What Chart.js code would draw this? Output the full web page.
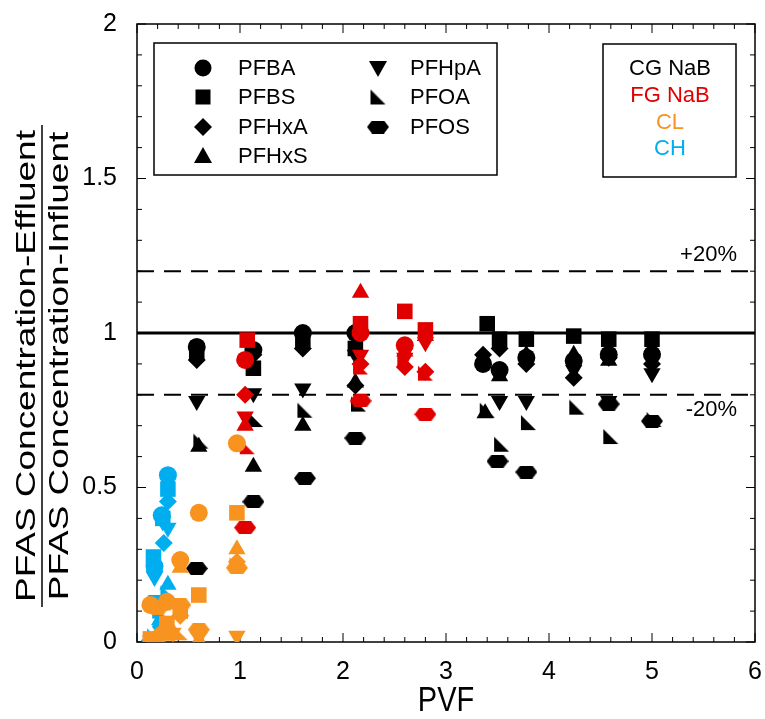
<!DOCTYPE html>
<html>
<head>
<meta charset="utf-8">
<script src="https://cdn.jsdelivr.net/npm/chart.js@4"></script>
<style>
  html, body { margin: 0; padding: 0; background: #fff; }
</style>
</head>
<body>
<canvas id="chart" width="765" height="719"></canvas>
<script>
const compounds = ['PFBA', 'PFBS', 'PFHxA', 'PFHxS', 'PFHpA', 'PFOA', 'PFOS'];
const sources = ['CG NaB', 'FG NaB', 'CL', 'CH'];
const sourceColors = ['#000000', '#e00000', '#f7931e', '#00aeef'];
const xTickValues = [0, 1, 2, 3, 4, 5, 6];
const yTickValues = [0, 0.5, 1, 1.5, 2];
const refLevels = [1, 1.2, 0.8];
const refLabels = ['', '+20%', '-20%'];

// CG NaB
const cgPFBA = [[0.58, 0.955], [1.13, 0.945], [1.61, 1.0], [2.12, 1.0], [3.36, 0.90], [3.52, 0.88], [3.78, 0.92], [4.24, 0.91], [4.58, 0.93], [5.0, 0.93]];
const cgPFBS = [[0.58, 0.94], [1.13, 0.886], [1.61, 0.98], [2.12, 0.95], [3.40, 1.03], [3.52, 0.98], [3.78, 0.98], [4.24, 0.99], [4.58, 0.98], [5.0, 0.98]];
const cgPFHxA = [[0.58, 0.913], [1.13, 0.93], [1.61, 0.95], [2.12, 0.83], [3.36, 0.93], [3.52, 0.95], [3.78, 0.90], [4.24, 0.855], [4.58, 0.92], [5.0, 0.90]];
const cgPFHxS = [[0.60, 0.632], [1.13, 0.567], [1.61, 0.70], [2.12, 0.84], [3.38, 0.74], [3.52, 0.86], [3.78, 0.93], [4.24, 0.93], [4.58, 0.91], [5.0, 0.95]];
const cgPFHpA = [[0.58, 0.78], [1.13, 0.805], [1.61, 0.82], [2.12, 0.93], [3.52, 0.78], [3.78, 0.78], [4.24, 0.88], [4.58, 0.78], [5.0, 0.87]];
const cgPFOA = [[0.62, 0.65], [1.15, 0.72], [1.63, 0.75], [2.15, 0.77], [3.40, 0.75], [3.54, 0.64], [3.80, 0.71], [4.27, 0.76], [4.60, 0.665], [5.02, 0.72]];
const cgPFOS = [[0.58, 0.238], [1.13, 0.454], [1.63, 0.53], [2.12, 0.66], [3.50, 0.585], [3.78, 0.55], [4.58, 0.77], [5.0, 0.715]];

// FG NaB
const fgPFBA = [[1.05, 0.913], [2.17, 1.0], [2.6, 0.96]];
const fgPFBS = [[1.07, 0.977], [2.17, 1.03], [2.6, 1.07], [2.8, 1.01]];
const fgPFHxA = [[1.05, 0.80], [2.17, 0.90], [2.6, 0.89], [2.8, 0.875]];
const fgPFHxS = [[1.05, 0.70], [2.17, 1.13], [2.6, 0.94], [2.8, 0.99]];
const fgPFHpA = [[1.05, 0.73], [2.17, 0.93], [2.6, 0.92], [2.8, 0.97]];
const fgPFOA = [[1.07, 0.632], [2.17, 0.89], [2.6, 0.91], [2.8, 0.87]];
const fgPFOS = [[1.05, 0.37], [2.17, 0.78], [2.8, 0.737]];

// CL
const clPFBA = [[0.97, 0.643], [0.60, 0.418], [0.42, 0.265], [0.29, 0.13], [0.13, 0.12]];
const clPFBS = [[0.97, 0.418], [0.60, 0.152], [0.42, 0.10], [0.29, 0.06], [0.13, 0.01]];
const clPFHxA = [[0.97, 0.26], [0.42, 0.085], [0.20, 0.02], [0.60, 0.03]];
const clPFHxS = [[0.97, 0.30], [0.42, 0.24], [0.60, 0.005], [0.29, 0.02]];
const clPFHpA = [[0.97, 0.02], [0.60, 0.015], [0.35, 0.03], [0.13, 0.005]];
const clPFOA = [[0.97, 0.25], [0.42, 0.03], [0.25, 0.01]];
const clPFOS = [[0.97, 0.24], [0.60, 0.04], [0.29, 0.04], [0.42, 0.12], [0.20, 0.11]];

// CH
const chPFBA = [[0.30, 0.54], [0.24, 0.41], [0.17, 0.245]];
const chPFBS = [[0.30, 0.495], [0.25, 0.40], [0.16, 0.275]];
const chPFHxA = [[0.30, 0.455], [0.26, 0.32], [0.17, 0.23]];
const chPFHxS = [[0.30, 0.185], [0.25, 0.12], [0.22, 0.07]];
const chPFHpA = [[0.30, 0.37], [0.25, 0.39], [0.17, 0.21]];
const chPFOA = [[0.30, 0.16], [0.22, 0.10], [0.17, 0.02]];
const chPFOS = [[0.17, 0.13], [0.25, 0.05], [0.15, 0.005]];

const cgSet = [cgPFBA, cgPFBS, cgPFHxA, cgPFHxS, cgPFHpA, cgPFOA, cgPFOS];
const fgSet = [fgPFBA, fgPFBS, fgPFHxA, fgPFHxS, fgPFHpA, fgPFOA, fgPFOS];
const clSet = [clPFBA, clPFBS, clPFHxA, clPFHxS, clPFHpA, clPFOA, clPFOS];
const chSet = [chPFBA, chPFBS, chPFHxA, chPFHxS, chPFHpA, chPFOA, chPFOS];
const sets = [cgSet, fgSet, clSet, chSet];
const drawOrder = [3, 0, 1, 2]; // CH first, CL on top

const FONT = '"Liberation Sans", Arial, sans-serif';

// custom marker images: right triangle (PFOA) and flat hexagon (PFOS)
function rightTri(color) {
  const c = document.createElement('canvas');
  c.width = 17; c.height = 17;
  const g = c.getContext('2d');
  g.fillStyle = color;
  g.beginPath();
  g.moveTo(1, 1); g.lineTo(1, 16); g.lineTo(16, 16);
  g.closePath(); g.fill();
  return c;
}
function hexagon(color) {
  const c = document.createElement('canvas');
  c.width = 22; c.height = 13;
  const g = c.getContext('2d');
  g.fillStyle = color;
  g.beginPath();
  g.moveTo(0, 6.5); g.lineTo(5, 0); g.lineTo(17, 0); g.lineTo(22, 6.5); g.lineTo(17, 13); g.lineTo(5, 13);
  g.closePath(); g.fill();
  return c;
}

function markerStyle(i, color) {
  switch (i) {
    case 0: return { pointStyle: 'circle', radius: 9, rotation: 0 };
    case 1: return { pointStyle: 'rect', radius: 11, rotation: 0 };
    case 2: return { pointStyle: 'rectRot', radius: 9, rotation: 0 };
    case 3: return { pointStyle: 'triangle', radius: 10, rotation: 0 };
    case 4: return { pointStyle: 'triangle', radius: 10, rotation: 180 };
    case 5: return { pointStyle: rightTri(color), radius: 8, rotation: 0 };
    default: return { pointStyle: hexagon(color), radius: 9, rotation: 0 };
  }
}

const datasets = [];
refLevels.forEach((lvl, i) => {
  datasets.push({
    type: 'line',
    label: 'ref' + i,
    data: [{ x: xTickValues[0], y: lvl }, { x: xTickValues[xTickValues.length - 1], y: lvl }],
    borderColor: '#000',
    borderWidth: i === 0 ? 3 : 2,
    borderDash: i === 0 ? [] : [17, 10],
    pointRadius: 0,
    order: 10
  });
});
drawOrder.forEach((s, k) => {
  const color = sourceColors[s];
  sets[s].forEach((pts, ci) => {
    const m = markerStyle(ci, color);
    datasets.push({
      label: sources[s] + ' ' + compounds[ci],
      data: pts.map(p => ({ x: p[0], y: p[1] })),
      pointStyle: m.pointStyle,
      pointRadius: m.radius,
      pointRotation: m.rotation,
      backgroundColor: color,
      borderColor: color,
      borderWidth: 0,
      order: 5 - k
    });
  });
});

function drawMarker(ctx, i, x, y, color) {
  ctx.fillStyle = color;
  ctx.beginPath();
  if (i === 0) {
    ctx.arc(x, y, 8.5, 0, Math.PI * 2);
  } else if (i === 1) {
    ctx.rect(x - 7.5, y - 7.5, 15, 15);
  } else if (i === 2) {
    ctx.moveTo(x, y - 9); ctx.lineTo(x + 9, y); ctx.lineTo(x, y + 9); ctx.lineTo(x - 9, y);
  } else if (i === 3) {
    ctx.moveTo(x, y - 9); ctx.lineTo(x + 9, y + 7); ctx.lineTo(x - 9, y + 7);
  } else if (i === 4) {
    ctx.moveTo(x, y + 9); ctx.lineTo(x + 9, y - 7); ctx.lineTo(x - 9, y - 7);
  } else {
    const img = i === 5 ? rightTri(color) : hexagon(color);
    ctx.drawImage(img, x - img.width / 2, y - img.height / 2);
    return;
  }
  ctx.closePath();
  ctx.fill();
}

const decor = {
  id: 'decor',
  beforeDatasetsDraw(chart) {
    const { ctx, chartArea: a, scales: { x, y } } = chart;
    ctx.save();
    ctx.strokeStyle = '#000';
    ctx.lineWidth = 1;
    ctx.beginPath();
    for (let k = 0; k <= 30; k++) {
      const px = x.getPixelForValue(k * 0.2);
      const len = k % 5 === 0 ? 9 : 5;
      ctx.moveTo(px, a.bottom); ctx.lineTo(px, a.bottom - len);
      ctx.moveTo(px, a.top); ctx.lineTo(px, a.top + len);
    }
    for (let k = 0; k <= 20; k++) {
      const py = y.getPixelForValue(k * 0.1);
      const len = k % 5 === 0 ? 9 : 5;
      ctx.moveTo(a.left, py); ctx.lineTo(a.left + len, py);
      ctx.moveTo(a.right, py); ctx.lineTo(a.right - len, py);
    }
    ctx.stroke();
    ctx.lineWidth = 1.5;
    ctx.strokeRect(a.left, a.top, a.right - a.left, a.bottom - a.top);
    ctx.restore();
  },
  afterDraw(chart) {
    const { ctx, chartArea: a, scales: { x, y } } = chart;
    ctx.save();
    ctx.fillStyle = '#000';

    // y title as a fraction
    ctx.textAlign = 'center';
    ctx.textBaseline = 'middle';
    ctx.font = '28px ' + FONT;
    [['PFAS Concentration-Effluent', 27], ['PFAS Concentration-Influent', 60]].forEach(([t, cx]) => {
      ctx.save();
      ctx.translate(cx, 366);
      ctx.rotate(-Math.PI / 2);
      ctx.scale(1.32, 1);
      ctx.fillText(t, 0, 0);
      ctx.restore();
    });
    ctx.lineWidth = 1.5;
    ctx.beginPath();
    ctx.moveTo(42, 125); ctx.lineTo(42, 607);
    ctx.stroke();

    // x title
    ctx.save();
    ctx.translate((a.left + a.right) / 2, 701);
    ctx.scale(1, 1.2);
    ctx.font = '29px ' + FONT;
    ctx.fillText('PVF', 0, 0);
    ctx.restore();

    // +/-20% labels
    ctx.font = '22px ' + FONT;
    ctx.textAlign = 'right';
    refLevels.forEach((lvl, i) => {
      if (!refLabels[i]) return;
      const py = y.getPixelForValue(lvl) + (lvl > 1 ? -16 : 15);
      ctx.fillText(refLabels[i], 737, py);
    });

    // compound legend
    ctx.lineWidth = 1.5;
    ctx.strokeStyle = '#000';
    ctx.strokeRect(154, 43, 343, 132);
    ctx.textAlign = 'left';
    ctx.font = '22px ' + FONT;
    const rows = [68, 97, 127, 156];
    compounds.forEach((name, i) => {
      const col = i < 4 ? 0 : 1;
      const row = i < 4 ? i : i - 4;
      const mx = col === 0 ? 203 : 378;
      const tx = col === 0 ? 238 : 410;
      drawMarker(ctx, i, mx, rows[row], '#000');
      ctx.fillStyle = '#000';
      ctx.fillText(name, tx, rows[row] + 1);
    });

    // source legend
    ctx.strokeRect(603, 44, 133, 133);
    ctx.textAlign = 'center';
    const srows = [68, 95, 122, 148];
    sources.forEach((s, i) => {
      ctx.fillStyle = sourceColors[i];
      ctx.fillText(s, 670, srows[i] + 1);
    });
    ctx.restore();
  }
};

new Chart(document.getElementById('chart'), {
  type: 'scatter',
  data: { datasets },
  options: {
    responsive: false,
    animation: false,
    devicePixelRatio: 1,
    layout: { padding: { left: 0, right: 10, top: 24, bottom: 0 }, autoPadding: false },
    plugins: { legend: { display: false }, tooltip: { enabled: false } },
    scales: {
      x: {
        type: 'linear', min: 0, max: 6,
        afterFit: s => { s.height = 77; s.paddingLeft = 0; s.paddingRight = 0; },
        afterBuildTicks: s => { s.ticks = xTickValues.map(v => ({ value: v })); },
        grid: { display: false },
        border: { display: false },
        ticks: { color: '#000', font: { family: FONT, size: 25 }, padding: 7, maxRotation: 0, autoSkip: false }
      },
      y: {
        type: 'linear', min: 0, max: 2,
        afterFit: s => { s.width = 137; s.paddingTop = 0; s.paddingBottom = 0; },
        afterBuildTicks: s => { s.ticks = yTickValues.map(v => ({ value: v })); },
        grid: { display: false },
        border: { display: false },
        ticks: { color: '#000', font: { family: FONT, size: 25 }, padding: 12, autoSkip: false, callback: v => String(v) }
      }
    }
  },
  plugins: [decor]
});
</script>
</body>
</html>
